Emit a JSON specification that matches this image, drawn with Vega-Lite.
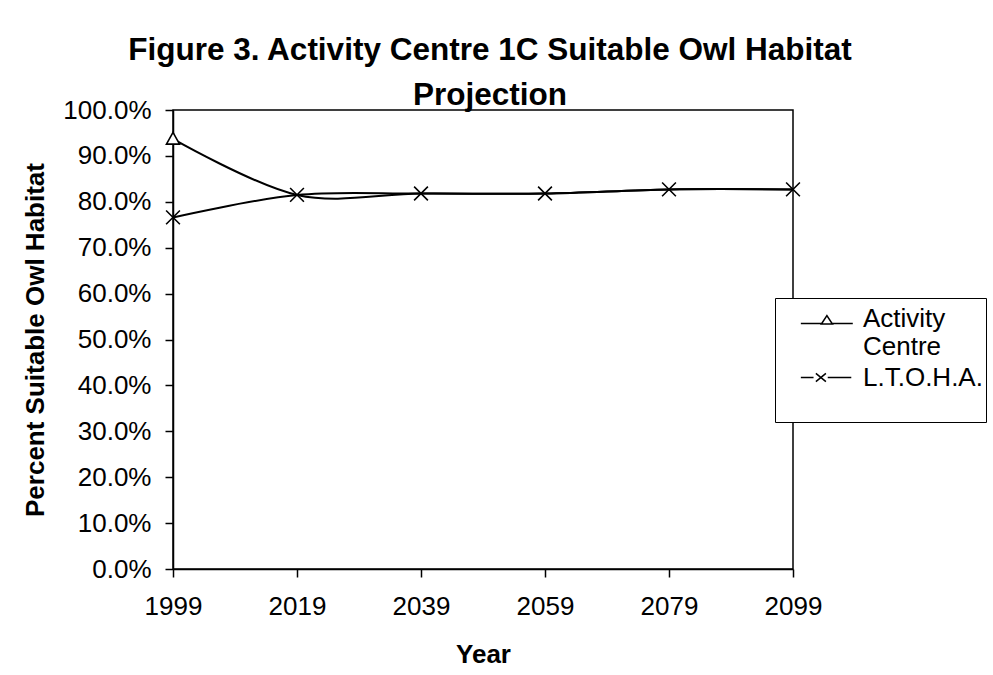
{
  "$schema": "https://vega.github.io/schema/vega-lite/v6.json",
  "width": 620,
  "height": 459,
  "autosize": {"type": "none"},
  "padding": {"left": 173, "top": 110, "right": 200, "bottom": 106},
  "background": "white",
  "title": {
    "text": ["Figure 3. Activity Centre 1C Suitable Owl Habitat", "Projection"],
    "font": "Liberation Sans",
    "fontSize": 31.5,
    "fontWeight": "bold",
    "lineHeight": 45,
    "anchor": "middle",
    "offset": -14,
    "dx": 7,
    "color": "black"
  },
  "data": {
    "values": [
      {"series": "Activity Centre", "year": 1999, "value": 0.937},
      {"series": "Activity Centre", "year": 2019, "value": 0.815},
      {"series": "Activity Centre", "year": 2039, "value": 0.818},
      {"series": "Activity Centre", "year": 2059, "value": 0.818},
      {"series": "Activity Centre", "year": 2079, "value": 0.827},
      {"series": "Activity Centre", "year": 2099, "value": 0.827},
      {"series": "L.T.O.H.A.", "year": 1999, "value": 0.766},
      {"series": "L.T.O.H.A.", "year": 2019, "value": 0.815},
      {"series": "L.T.O.H.A.", "year": 2039, "value": 0.818},
      {"series": "L.T.O.H.A.", "year": 2059, "value": 0.818},
      {"series": "L.T.O.H.A.", "year": 2079, "value": 0.827},
      {"series": "L.T.O.H.A.", "year": 2099, "value": 0.827}
    ]
  },
  "config": {
    "view": {"stroke": "black", "strokeWidth": 1.5},
    "axis": {
      "grid": false,
      "domainColor": "black",
      "domainWidth": 1.5,
      "tickColor": "black",
      "tickWidth": 1.5,
      "tickSize": 8,
      "labelColor": "black",
      "titleColor": "black",
      "labelFont": "Liberation Sans",
      "titleFont": "Liberation Sans",
      "labelFontSize": 26,
      "labelFontWeight": "normal",
      "titleFontSize": 26,
      "titleFontWeight": "bold"
    }
  },
  "encoding": {
    "x": {
      "field": "year",
      "type": "quantitative",
      "scale": {"domain": [1999, 2099], "nice": false, "zero": false},
      "axis": {
        "title": "Year",
        "values": [1999, 2019, 2039, 2059, 2079, 2099],
        "format": "d",
        "labelPadding": 16,
        "titlePadding": 22,
        "labelFlush": false
      }
    },
    "y": {
      "field": "value",
      "type": "quantitative",
      "scale": {"domain": [0, 1], "nice": false},
      "axis": {
        "title": "Percent Suitable Owl Habitat",
        "values": [0, 0.1, 0.2, 0.3, 0.4, 0.5, 0.6, 0.7, 0.8, 0.9, 1.0],
        "format": ".1%",
        "labelPadding": 14,
        "titlePadding": 14,
        "labelFlush": false
      }
    }
  },
  "layer": [
    {
      "mark": {"type": "line", "interpolate": "cardinal", "color": "black", "strokeWidth": 2},
      "encoding": {"detail": {"field": "series"}}
    },
    {
      "transform": [{"filter": "datum.series === 'L.T.O.H.A.' || datum.year === 1999"}],
      "mark": {"type": "point", "filled": true, "fill": "white", "stroke": "black", "strokeWidth": 1.6, "size": 190, "opacity": 1},
      "encoding": {
        "shape": {
          "field": "series",
          "scale": {"domain": ["Activity Centre", "L.T.O.H.A."], "range": ["M0,-0.95L0.95,0.75L-0.95,0.75Z", "M-1,-1L1,1M1,-1L-1,1"]},
          "legend": null
        }
      }
    },
    {
      "transform": [{"filter": "datum.year < 0"}],
      "mark": {"type": "point", "filled": false, "color": "black", "strokeWidth": 1.5},
      "encoding": {
        "shape": {
          "field": "series",
          "scale": {"domain": ["Activity Centre", "L.T.O.H.A."], "range": ["M0.32,0.3H1.55M2.21,0.3H3.43M1.55,0.33L1.88,-0.17L2.21,0.33Z", "M0.32,0H1.08M1.93,0H3.34M1.22,-0.25L1.82,0.25M1.82,-0.25L1.22,0.25"]},
          "legend": {
            "orient": "none",
            "legendX": 602,
            "legendY": 188,
            "title": null,
            "strokeColor": "black",
            "fillColor": "white",
            "padding": 3,
            "symbolSize": 1116,
            "symbolStrokeColor": "black",
            "symbolFillColor": "white",
            "symbolStrokeWidth": 1.5,
            "symbolOpacity": 1,
            "labelFont": "Liberation Sans",
            "labelFontSize": 26,
            "labelColor": "black",
            "labelLineHeight": 30,
            "labelOffset": 50,
            "labelLimit": 300,
            "rowPadding": -9,
            "labelExpr": "datum.label === 'Activity Centre' ? ['Activity', 'Centre'] : ['L.T.O.H.A.', '']",
            "encode": {
              "symbols": {"update": {"size": {"value": 1116}, "opacity": {"value": 1}, "stroke": {"value": "black"}, "fill": {"value": "white"}, "strokeWidth": {"value": 1.5}}}
            }
          }
        }
      }
    }
  ],
  "resolve": {"scale": {"shape": "independent"}}
}
